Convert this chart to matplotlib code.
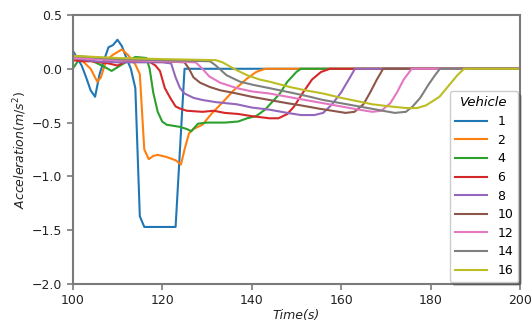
import matplotlib
matplotlib.use("Agg")
import matplotlib.pyplot as plt

# ---- data ----
vehicles = ["1", "2", "4", "6", "8", "10", "12", "14", "16"]
colors = ["#1f77b4", "#ff7f0e", "#2ca02c", "#d62728", "#9467bd",
          "#8c564b", "#e377c2", "#7f7f7f", "#bcbd22"]

t1 = [100, 101, 102, 103, 104, 105, 106, 107, 108, 109, 110, 111, 112, 113, 114, 115, 116, 123, 125, 200]
a1 = [0.17, 0.10, 0.03, -0.08, -0.20, -0.26, -0.05, 0.08, 0.20, 0.22, 0.27, 0.21, 0.10, 0.0, -0.18, -1.37, -1.47, -1.47, 0.0, 0.0]

t2 = [100, 102, 104, 105.5, 106.3, 107.5, 109, 111, 112.3, 114, 115, 116, 117, 118, 119, 121, 123, 124.2, 125, 126, 127, 129, 131, 134, 136, 139, 141, 143, 200]
a2 = [0.13, 0.08, 0.0, -0.12, -0.08, 0.08, 0.13, 0.18, 0.13, 0.04, -0.05, -0.75, -0.84, -0.81, -0.80, -0.82, -0.85, -0.89, -0.75, -0.60, -0.56, -0.52, -0.42, -0.29, -0.20, -0.09, -0.03, 0.0, 0.0]

t4 = [100, 101.3, 104, 107, 108.7, 111, 114, 116.5, 117.2, 118, 119, 120, 121, 124, 125.5, 126.5, 128, 130, 134, 137, 139, 141, 143, 145, 146.3, 148, 150, 151, 200]
a4 = [0.0, 0.08, 0.08, 0.02, -0.02, 0.04, 0.11, 0.10, 0.0, -0.22, -0.40, -0.49, -0.52, -0.54, -0.56, -0.58, -0.51, -0.50, -0.50, -0.49, -0.46, -0.44, -0.38, -0.29, -0.23, -0.12, -0.03, 0.0, 0.0]

t6 = [100, 102, 104, 106, 108, 110, 112, 114, 117, 118.5, 119.5, 120.6, 121.8, 123, 124, 125.5, 129, 131.5, 134, 137, 140, 144, 146, 148, 149.5, 151.5, 153.5, 155.5, 157.5, 200]
a6 = [0.08, 0.07, 0.07, 0.06, 0.05, 0.03, 0.07, 0.07, 0.07, 0.03, -0.02, -0.18, -0.27, -0.35, -0.37, -0.39, -0.40, -0.39, -0.41, -0.42, -0.44, -0.46, -0.46, -0.42, -0.35, -0.22, -0.10, -0.03, 0.0, 0.0]

t8 = [100, 105, 110, 115, 120, 122, 123, 124, 125, 127, 129, 132, 136.7, 140, 144, 148, 151, 154, 156, 158, 160, 162, 163.1, 200]
a8 = [0.10, 0.07, 0.06, 0.06, 0.06, 0.05, -0.08, -0.18, -0.23, -0.27, -0.29, -0.31, -0.33, -0.36, -0.38, -0.41, -0.43, -0.43, -0.41, -0.33, -0.22, -0.08, 0.0, 0.0]

t10 = [100, 110, 120, 125, 126, 127, 128.5, 130.7, 133, 136.7, 140, 144, 148, 151, 155, 158, 161, 163, 165, 166.5, 168, 169.4, 200]
a10 = [0.12, 0.08, 0.07, 0.06, 0.0, -0.08, -0.13, -0.17, -0.20, -0.23, -0.26, -0.29, -0.32, -0.34, -0.37, -0.39, -0.41, -0.40, -0.33, -0.22, -0.10, 0.0, 0.0]

t12 = [100, 110, 120, 127.5, 129, 130.5, 133, 136.7, 140, 144, 148, 152, 156, 160, 164, 167, 169, 171, 172.5, 174, 175.8, 200]
a12 = [0.10, 0.08, 0.07, 0.06, 0.0, -0.07, -0.13, -0.18, -0.21, -0.23, -0.26, -0.29, -0.32, -0.35, -0.38, -0.40, -0.39, -0.32, -0.22, -0.10, 0.0, 0.0]

t14 = [100, 110, 120, 130.7, 132, 134.4, 137.4, 140.4, 144, 148.6, 152, 156, 160, 164, 168, 172, 174.5, 176, 177.7, 179.5, 181, 182.1, 200]
a14 = [0.12, 0.09, 0.08, 0.07, 0.03, -0.06, -0.12, -0.15, -0.18, -0.22, -0.25, -0.29, -0.32, -0.35, -0.38, -0.41, -0.40, -0.35, -0.27, -0.15, -0.06, 0.0, 0.0]

t16 = [100, 110, 120, 132, 133.5, 135.2, 137, 139, 141.8, 144, 148.6, 152, 156, 160, 163.5, 167, 171, 174.6, 177, 179, 182, 184, 186, 187.5, 200]
a16 = [0.12, 0.10, 0.09, 0.08, 0.06, 0.02, -0.02, -0.06, -0.10, -0.12, -0.17, -0.20, -0.23, -0.27, -0.30, -0.33, -0.35, -0.365, -0.365, -0.34, -0.26, -0.16, -0.06, 0.0, 0.0]

times = [t1, t2, t4, t6, t8, t10, t12, t14, t16]
accels = [a1, a2, a4, a6, a8, a10, a12, a14, a16]

xticks = [100, 120, 140, 160, 180, 200]
yticks = [0.5, 0.0, -0.5, -1.0, -1.5, -2.0]

# ---- plot ----
fig = plt.figure(figsize=(5.32, 3.25), dpi=100)
ax = fig.add_axes([0.1367, 0.1262, 0.8407, 0.8277])

for t, a, lab, c in zip(times, accels, vehicles, colors):
    ax.plot(t, a, color=c, lw=1.5, label=lab)

ax.set_xlim(100, 200)
ax.set_ylim(-2.0, 0.5)
ax.set_xticks(xticks)
ax.set_yticks(yticks)
ax.set_xticklabels([str(x) for x in xticks])
ax.set_yticklabels(["0.5", "0.0", "\u22120.5", "\u22121.0", "\u22121.5", "\u22122.0"])

for s in ax.spines.values():
    s.set_color("#7a7a7a")
    s.set_linewidth(1.5)
ax.tick_params(colors="#7a7a7a", labelcolor="#222222", labelsize=9, width=1.2, length=4)

ax.set_xlabel("Time(s)", fontstyle="italic", fontsize=9, color="#222222", labelpad=1)
ax.set_ylabel("Acceleration$(m/s^2)$", fontstyle="italic", fontsize=9, color="#222222", labelpad=2)

leg = ax.legend(title="Vehicle", loc="lower right", fontsize=9, shadow=True,
                fancybox=True, borderaxespad=0.15, handlelength=2.6,
                labelspacing=0.45, framealpha=1.0)
leg.get_title().set_fontstyle("italic")
leg.get_title().set_fontsize(9.5)

fig.savefig("out.png", dpi=100)
